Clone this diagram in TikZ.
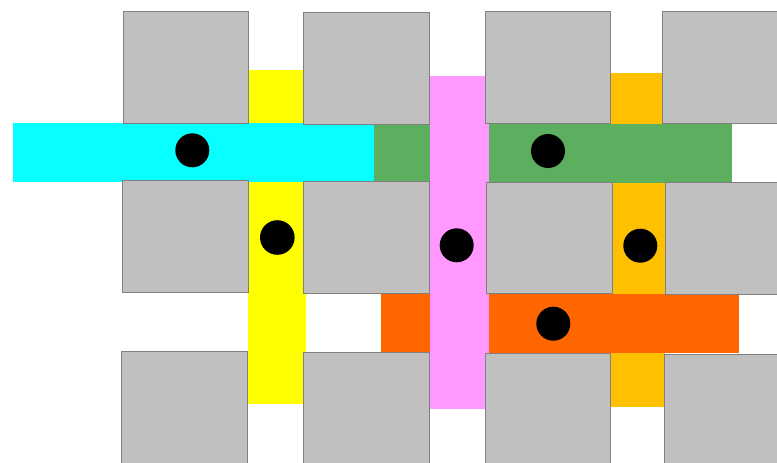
\documentclass[tikz,border=0pt]{standalone}
\definecolor{cellgray}{RGB}{192,192,192}
\definecolor{edgegray}{RGB}{128,128,128}
\definecolor{cyanbar}{RGB}{8,255,255}
\definecolor{greenbar}{RGB}{92,175,94}
\definecolor{pinkbar}{RGB}{255,153,255}
\definecolor{yellowbar}{RGB}{255,255,0}
\definecolor{amberbar}{RGB}{255,192,0}
\definecolor{orangebar}{RGB}{255,102,0}
\tikzset{
  cell/.style={fill=cellgray, draw=edgegray, line width=0.9pt},
  dot/.style={fill=black},
}
\begin{document}
\begin{tikzpicture}[x=1pt,y=-1pt]
\useasboundingbox (0,0) rectangle (777,463);
\clip (0,0) rectangle (777,463);
\fill[white] (0,0) rectangle (777,463);
% vertical bars (under)
\fill[yellowbar] (248,70) rectangle (306,403.7);
\fill[amberbar] (610.7,73) rectangle (664.5,407);
% horizontal bars
\fill[cyanbar] (13,123) rectangle (374,181.7);
\fill[greenbar] (374,124) rectangle (732,182.7);
\fill[orangebar] (381,294) rectangle (738.7,353.3);
% pink vertical bar over green and orange
\fill[pinkbar] (429.7,76) rectangle (489,409);
% gray cells
\draw[cell] (123.3,11.3) rectangle (248.3,123.3);
\draw[cell] (303.3,12.3) rectangle (429,124);
\draw[cell] (485.3,11.3) rectangle (610.7,123.3);
\draw[cell] (662.3,11.3) rectangle (790,123.3);
\draw[cell] (122.3,180.7) rectangle (248.3,292.3);
\draw[cell] (303.3,181) rectangle (429,293.3);
\draw[cell] (486.3,182) rectangle (612.3,293.7);
\draw[cell] (665.3,182.3) rectangle (790,294.3);
\draw[cell] (121.3,351.3) rectangle (247,475);
\draw[cell] (303.3,352.3) rectangle (429,475);
\draw[cell] (485.3,353.7) rectangle (610.7,475);
\draw[cell] (664.3,354.3) rectangle (790,475);
% dots
\fill[dot] (192.3,150.3) circle (17);
\fill[dot] (548,151) circle (17);
\fill[dot] (277.3,237.5) circle (17.3);
\fill[dot] (456.7,245.3) circle (17);
\fill[dot] (640.3,245.7) circle (17);
\fill[dot] (553.3,323.7) circle (17);
\end{tikzpicture}
\end{document}
